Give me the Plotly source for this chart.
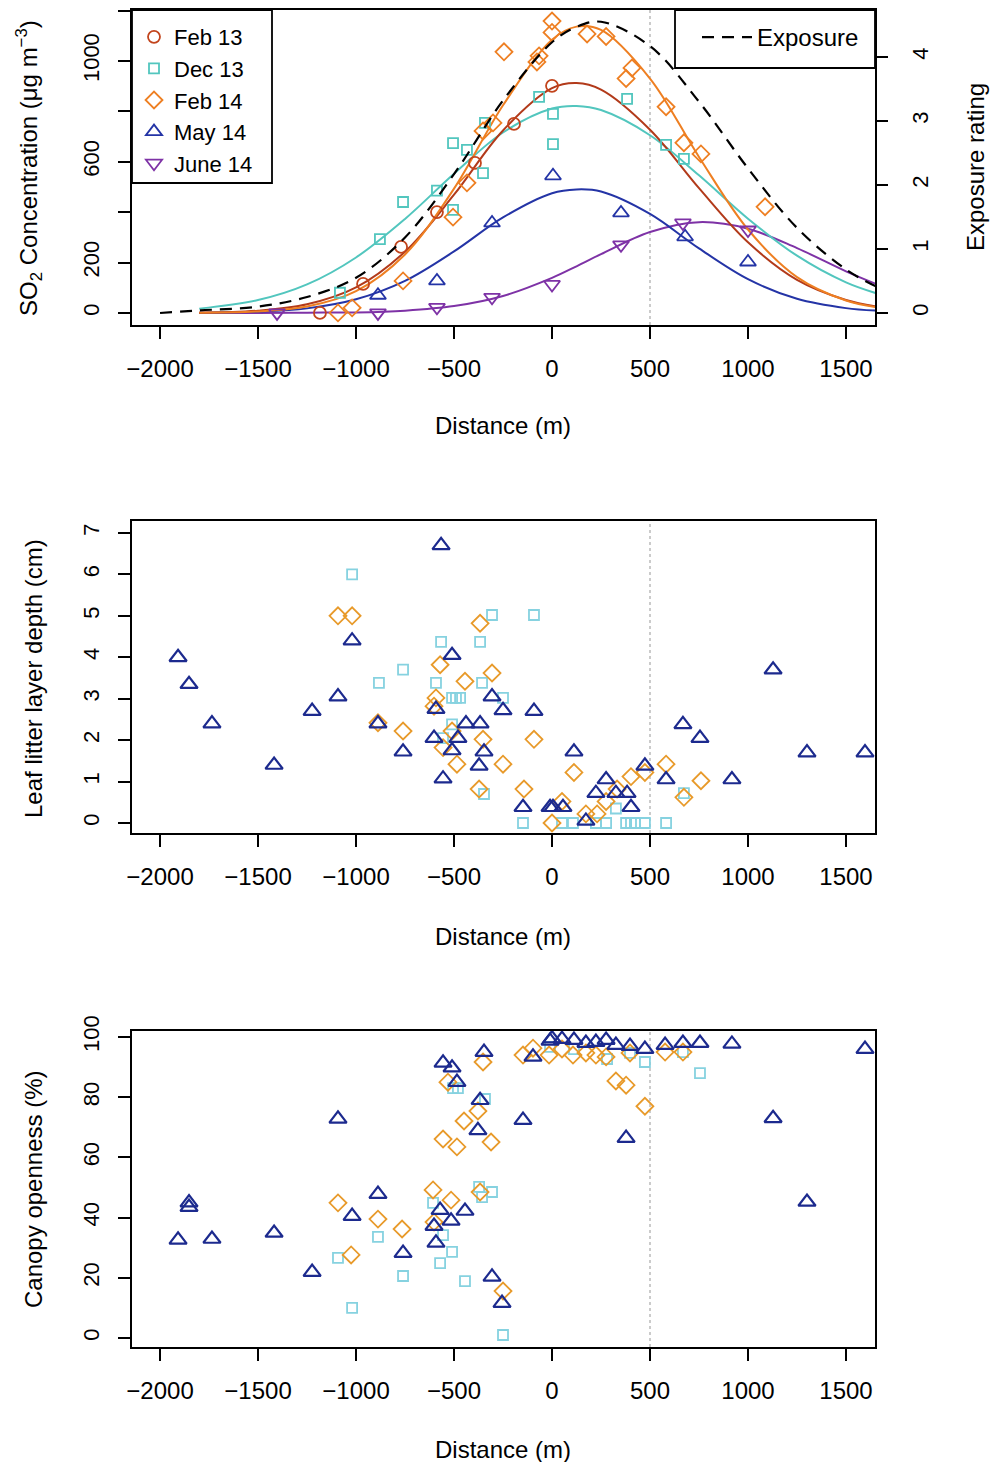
import plotly.graph_objects as go

# ---------------- data: top panel (SO2 concentration) ----------------
feb13_x = [-1184, -964, -770, -587, -393, -194, 0]
feb13_y = [0, 115, 262, 400, 595, 750, 901]
dec13_x = [-1082, -878, -760, -587, -505, -505, -434, -352, -342, -66, 5, 5, 383, 582, 673]
dec13_y = [80, 293, 440, 485, 409, 674, 647, 555, 754, 857, 790, 670, 849, 667, 611]
feb14_x = [-1092, -1020, -760, -505, -434, -352, -301, -245, -77, -66, 0, 0, 179, 276, 378, 408, 582, 673, 760, 1087]
feb14_y = [0, 20, 127, 380, 516, 722, 754, 1036, 996, 1020, 1158, 1113, 1107, 1097, 930, 972, 818, 675, 631, 421]
may14_x = [-888, -587, -306, 5, 352, 679, 1000]
may14_y = [70, 127, 357, 544, 397, 302, 202]
june14_x = [-1403, -888, -587, -306, 0, 352, 668, 1000]
june14_y = [0, 0, 22, 62, 113, 270, 357, 329]

# fitted curves
curve_x = [-1800, -1500, -1250, -1000, -750, -500, -250, 0, 125, 250, 500, 750, 1000, 1250, 1500, 1650]
feb13_fit = [1, 9, 34, 101, 243, 469, 724, 892, 912, 886, 727, 495, 280, 131, 51, 26]
dec13_fit = [17, 51, 113, 220, 373, 552, 716, 811, 821, 805, 705, 546, 374, 227, 121, 79]
feb14_fit = [1, 6, 25, 86, 232, 493, 824, 1084, 1136, 1123, 930, 619, 331, 142, 49, 23]
may14_fit = [1, 5, 18, 54, 127, 244, 379, 475, 490, 482, 393, 256, 134, 56, 19, 9]
june14_fit = [0, 0, 1, 2, 9, 27, 67, 139, 185, 233, 321, 360, 334, 257, 165, 116]
exposure_x = [-2000, -1800, -1500, -1250, -1000, -750, -500, -250, 0, 125, 250, 500, 750, 1000, 1250, 1500, 1650]
exposure_y = [0.0, 0.04, 0.1, 0.25, 0.55, 1.18, 2.17, 3.32, 4.23, 4.47, 4.55, 4.17, 3.30, 2.26, 1.33, 0.68, 0.42]

# ---------------- data: middle panel (leaf litter depth) ----------------
lit_tri_x = [-1908, -1852, -1735, -1418, -1224, -1092, -1020, -888, -760, -566, -602, -592, -556, -510, -510,
             -480, -439, -367, -347, -372, -306, -250, -148, -92, -10, 5, 56, 112, 173, 224, 276, 326, 383,
             403, 474, 582, 668, 755, 918, 1128, 1301, 1597]
lit_tri_y = [4.0, 3.35, 2.4, 1.4, 2.7, 3.05, 4.4, 2.4, 1.72, 6.7, 2.05, 2.75, 1.07, 4.05, 1.75,
             2.05, 2.4, 2.4, 1.72, 1.38, 3.05, 2.72, 0.38, 2.7, 0.38, 0.38, 0.38, 1.72, 0.05, 0.72, 1.05, 0.72, 0.72,
             0.38, 1.38, 1.05, 2.38, 2.05, 1.05, 3.7, 1.7, 1.7]
lit_dia_x = [-1092, -1020, -888, -760, -571, -592, -602, -556, -510, -485, -444, -367, -352, -372, -306,
             -250, -143, -92, 0, 51, 112, 173, 230, 276, 332, 403, 474, 582, 673, 760]
lit_dia_y = [5.0, 5.0, 2.42, 2.22, 3.82, 3.02, 2.82, 1.82, 2.22, 1.42, 3.42, 4.82, 2.02, 0.82, 3.62,
             1.42, 0.82, 2.02, 0.0, 0.52, 1.22, 0.22, 0.22, 0.52, 0.82, 1.12, 1.22, 1.42, 0.62, 1.02]
lit_sq_x = [-1020, -883, -760, -566, -592, -510, -490, -469, -510, -556, -367, -306, -357, -250, -347,
            -148, -92, 51, 107, 224, 276, 326, 378, 403, 423, 474, 582, 673]
lit_sq_y = [6.0, 3.38, 3.7, 4.37, 3.38, 3.02, 3.02, 3.02, 2.38, 2.05, 4.37, 5.02, 3.38, 3.02, 0.7,
            0.0, 5.02, 0.0, 0.0, 0.0, 0.0, 0.35, 0.0, 0.0, 0.0, 0.0, 0.0, 0.72]

# ---------------- data: bottom panel (canopy openness) ----------------
can_tri_x = [-1908, -1852, -1852, -1735, -1418, -1224, -1092, -1020, -888, -760, -556, -510, -485, -347,
             -367, -378, -571, -602, -592, -515, -444, -306, -255, -148, -97, -10, 0, 51, 112, 173, 224,
             276, 326, 398, 474, 577, 668, 755, 918, 1597, 378, 1128, 1301]
can_tri_y = [32.6, 43.5, 45.0, 32.9, 34.9, 21.9, 72.8, 40.5, 47.8, 28.2, 91.4, 89.8, 85.0, 95.0,
             79.0, 69.0, 42.5, 37.2, 31.6, 38.9, 42.2, 20.3, 11.6, 72.4, 93.4, 98.7, 99.5, 99.3, 99.0, 98.0, 98.3,
             99.0, 97.3, 97.0, 96.0, 97.3, 98.0, 98.0, 97.7, 96.0, 66.4, 73.0, 45.2]
can_dia_x = [-1092, -1025, -888, -765, -607, -602, -515, -556, -485, -449, -311, -378, -367, -250, -352,
             -531, -148, -97, -15, 51, 107, 173, 224, 276, 326, 378, 474, 398, 577, 668]
can_dia_y = [44.9, 27.6, 39.5, 36.2, 49.2, 38.5, 45.8, 66.1, 63.5, 72.1, 65.1, 75.4, 48.5, 15.6, 91.7,
             85.0, 94.0, 96.3, 94.0, 96.0, 94.0, 94.7, 94.0, 93.4, 85.4, 84.0, 77.0, 94.7, 95.0, 95.0]
can_sq_x = [-1092, -1020, -888, -760, -607, -556, -571, -510, -444, -372, -306, -357, -505, -480, -342,
            -250, -10, 112, 281, 398, 474, 668, 755]
can_sq_y = [26.6, 10.0, 33.6, 20.6, 44.9, 34.2, 24.9, 28.6, 18.9, 50.2, 48.5, 46.8, 83.0, 83.0, 79.4,
            1.0, 96.7, 96.0, 92.7, 94.7, 91.7, 95.0, 88.0]

x_ticks = [-2000, -1500, -1000, -500, 0, 500, 1000, 1500]
x_tick_text = ["\u22122000", "\u22121500", "\u22121000", "\u2212500", "0", "500", "1000", "1500"]
so2_label_ticks = [0, 200, 600, 1000]
so2_tick_step = 200
exp_ticks = [0, 1, 2, 3, 4]
litter_ticks = [0, 1, 2, 3, 4, 5, 6, 7]
canopy_ticks = [0, 20, 40, 60, 80, 100]

# ---------------- style ----------------
W, H = 995, 1462
FONT = "Liberation Sans, Arial, Helvetica, sans-serif"
C_FEB13 = "#C2441C"
C_FEB13_LINE = "#B23A1A"
C_DEC13 = "#52C6BE"
C_FEB14 = "#EE7F22"
C_MAY14 = "#2434A6"
C_JUN14 = "#7E32A6"
C_TRI = "#1C2A8E"
C_DIA = "#E89A2A"
C_SQ = "#86D2E0"


def px_x(p):
    return p / W


def px_y(p):
    return 1 - p / H


xdom = [px_x(132), px_x(875)]
top_dom = [px_y(325), px_y(10)]
mid_dom = [px_y(833), px_y(521)]
bot_dom = [px_y(1347), px_y(1031)]
xrange_ = [-2143, 1648]

fig = go.Figure()


def mk(x, y, sym, col, size, name, xa, ya, legend=None, lw=1.8):
    return go.Scatter(x=x, y=y, mode="markers", name=name, xaxis=xa, yaxis=ya,
                      marker=dict(symbol=sym, size=size, color=col, line=dict(width=lw, color=col)),
                      showlegend=legend is not None, legend=legend if legend else "legend")


def curve(x, y, col, xa="x", ya="y", dash="solid", width=2.0, name=None, legend=None):
    return go.Scatter(x=x, y=y, mode="lines", xaxis=xa, yaxis=ya, name=name,
                      line=dict(color=col, width=width, dash=dash, shape="spline", smoothing=1.0),
                      showlegend=legend is not None, legend=legend if legend else "legend")


# top panel curves
fig.add_trace(curve(exposure_x, exposure_y, "black", ya="y4", dash="12px,8px", width=2.2,
                    name="Exposure", legend="legend2"))
fig.add_trace(curve(curve_x, june14_fit, C_JUN14))
fig.add_trace(curve(curve_x, may14_fit, C_MAY14))
fig.add_trace(curve(curve_x, dec13_fit, C_DEC13))
fig.add_trace(curve(curve_x, feb13_fit, C_FEB13_LINE))
fig.add_trace(curve(curve_x, feb14_fit, C_FEB14))
# top panel points
fig.add_trace(mk(feb13_x, feb13_y, "circle-open", C_FEB13, 12, "Feb 13", "x", "y", legend="legend"))
fig.add_trace(mk(dec13_x, dec13_y, "square-open", C_DEC13, 10, "Dec 13", "x", "y", legend="legend"))
fig.add_trace(mk(feb14_x, feb14_y, "diamond-open", C_FEB14, 13, "Feb 14", "x", "y", legend="legend"))
fig.add_trace(mk(may14_x, may14_y, "triangle-up-open", C_MAY14, 14, "May 14", "x", "y", legend="legend"))
fig.add_trace(mk(june14_x, june14_y, "triangle-down-open", C_JUN14, 14, "June 14", "x", "y", legend="legend"))

# middle panel
fig.add_trace(mk(lit_sq_x, lit_sq_y, "square-open", C_SQ, 10, "Dec 13", "x2", "y2"))
fig.add_trace(mk(lit_dia_x, lit_dia_y, "diamond-open", C_DIA, 13, "Feb 14", "x2", "y2"))
fig.add_trace(mk(lit_tri_x, lit_tri_y, "triangle-up-open", C_TRI, 15, "May 14", "x2", "y2", lw=2.2))

# bottom panel
fig.add_trace(mk(can_sq_x, can_sq_y, "square-open", C_SQ, 10, "Dec 13", "x3", "y3"))
fig.add_trace(mk(can_dia_x, can_dia_y, "diamond-open", C_DIA, 13, "Feb 14", "x3", "y3"))
fig.add_trace(mk(can_tri_x, can_tri_y, "triangle-up-open", C_TRI, 15, "May 14", "x3", "y3", lw=2.2))

tickfont_x = dict(family=FONT, size=24, color="black")
tickfont_y = dict(family=FONT, size=22, color="black")


def xaxis(anchor):
    return dict(domain=xdom, anchor=anchor, range=xrange_, tickmode="array", tickvals=x_ticks,
                ticktext=x_tick_text, ticks="outside", ticklen=12, tickwidth=1.5, tickcolor="black",
                showline=True, linecolor="black", linewidth=1.8, mirror=True, showgrid=False,
                zeroline=False, tickfont=tickfont_x, ticklabelstandoff=9, automargin=False)


def yaxis(anchor, dom, rng, tv, minor=None):
    d = dict(domain=dom, anchor=anchor, range=rng, tickmode="array", tickvals=tv,
             ticktext=[str(v) for v in tv], ticks="outside", ticklen=12,
             tickwidth=1.5, tickcolor="black", showline=True, linecolor="black", linewidth=1.8,
             mirror=True, showgrid=False, zeroline=False, tickfont=tickfont_y, tickangle=-90,
             ticklabelstandoff=10, automargin=False)
    if minor:
        d["minor"] = dict(tick0=0, dtick=minor, ticks="outside", ticklen=12, tickwidth=1.5,
                          tickcolor="black", showgrid=False)
    return d


fig.update_layout(
    width=W, height=H, margin=dict(l=0, r=0, t=0, b=0, autoexpand=False),
    paper_bgcolor="white", plot_bgcolor="white",
    font=dict(family=FONT, color="black"),
    xaxis=xaxis("y"), yaxis=yaxis("x", top_dom, [-48, 1202], so2_label_ticks, minor=so2_tick_step),
    xaxis2=xaxis("y2"), yaxis2=yaxis("x2", mid_dom, [-0.241, 7.289], litter_ticks),
    xaxis3=xaxis("y3"), yaxis3=yaxis("x3", bot_dom, [-2.99, 102.0], canopy_ticks),
    yaxis4=dict(overlaying="y", side="right", anchor="x", range=[-0.1875, 4.734], tickmode="array",
                tickvals=exp_ticks, ticktext=[str(v) for v in exp_ticks], ticks="outside", ticklen=12,
                tickwidth=1.5, tickcolor="black", showline=False, showgrid=False, zeroline=False,
                tickfont=tickfont_y, tickangle=-90, ticklabelstandoff=14, automargin=False),
    legend=dict(x=px_x(134), y=px_y(16), xanchor="left", yanchor="top", bgcolor="rgba(0,0,0,0)",
                borderwidth=0, font=dict(family=FONT, size=22, color="black"),
                itemsizing="trace", tracegroupgap=0),
    legend2=dict(x=px_x(697), y=px_y(15), xanchor="left", yanchor="top", bgcolor="rgba(0,0,0,0)",
                 borderwidth=0, font=dict(family=FONT, size=24, color="black"), itemwidth=50),
)

# opaque legend frames
for (x0, y0, x1, y1) in [(132, 10, 272, 183), (675, 10, 875, 68)]:
    fig.add_shape(type="rect", xref="paper", yref="paper", x0=px_x(x0), x1=px_x(x1),
                  y0=px_y(y1), y1=px_y(y0), line=dict(color="black", width=1.8),
                  fillcolor="white", layer="above")

# dotted reference line at 500 m in each panel
for xr, yr in [("x", "y"), ("x2", "y2"), ("x3", "y3")]:
    fig.add_shape(type="line", xref=xr, yref=yr + " domain", x0=500, x1=500, y0=0, y1=1,
                  line=dict(color="#BBBBBB", width=1.5, dash="dot"), layer="below")

# axis titles
ann = []
title_font = dict(family=FONT, size=24, color="black")
for ytxt_px in [425, 936, 1449]:
    ann.append(dict(text="Distance (m)", x=px_x(503), y=px_y(ytxt_px), xref="paper", yref="paper",
                    showarrow=False, xanchor="center", yanchor="middle", font=title_font))
ann.append(dict(text="SO<sub>2</sub> Concentration (\u03bcg m<sup>\u22123</sup>)", x=px_x(29), y=px_y(168),
                xref="paper", yref="paper", showarrow=False, textangle=-90, xanchor="center",
                yanchor="middle", font=title_font))
ann.append(dict(text="Leaf litter layer depth (cm)", x=px_x(33), y=px_y(679), xref="paper", yref="paper",
                showarrow=False, textangle=-90, xanchor="center", yanchor="middle", font=title_font))
ann.append(dict(text="Canopy openness (%)", x=px_x(33), y=px_y(1190), xref="paper", yref="paper",
                showarrow=False, textangle=-90, xanchor="center", yanchor="middle", font=title_font))
ann.append(dict(text="Exposure rating", x=px_x(975), y=px_y(167), xref="paper", yref="paper",
                showarrow=False, textangle=-90, xanchor="center", yanchor="middle", font=title_font))
fig.update_layout(annotations=ann)

fig.write_html("out.html")
